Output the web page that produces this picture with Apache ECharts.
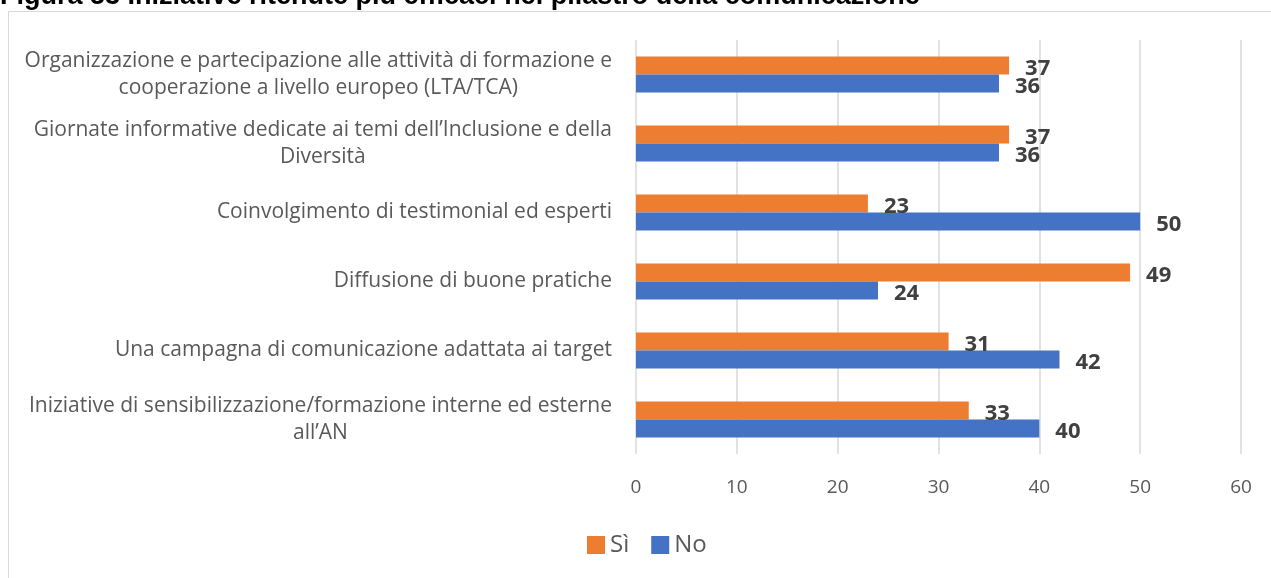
<!DOCTYPE html>
<html>
<head>
<meta charset="utf-8">
<script src="https://cdn.jsdelivr.net/npm/echarts@6/dist/echarts.min.js"></script>
<style>
  html, body { margin: 0; padding: 0; background: #fff; }
  #chart { width: 1271px; height: 578px; }
</style>
</head>
<body>
<div id="chart"></div>
<script>
// Initiatives, listed top to bottom
const categories = [
  "Organizzazione e partecipazione alle attività di formazione e\ncooperazione a livello europeo (LTA/TCA)",
  "Giornate informative dedicate ai temi dell’Inclusione e della\nDiversità",
  "Coinvolgimento di testimonial ed esperti",
  "Diffusione di buone pratiche",
  "Una campagna di comunicazione adattata ai target",
  "Iniziative di sensibilizzazione/formazione interne ed esterne\nall’AN"
];
const seriesNames = ["Sì", "No"];
const valuesSi = [37, 37, 23, 49, 31, 33];
const valuesNo = [36, 36, 50, 24, 42, 40];
const xTicks = { min: 0, max: 60, interval: 10 };

const titleText = "Figura 53 Iniziative ritenute più efficaci nel pilastro della comunicazione";

const FONT = "'Open Sans', 'DejaVu Sans', sans-serif";
const GREY = "#595959";

const chart = echarts.init(document.getElementById('chart'), null, { renderer: 'canvas' });

// Each label line is its own rich token so lines are centred inside a right-aligned block
function labelFormatter(v) {
  return v.split('\n').map(l => '{c|' + l + '}').join('\n');
}

const labelStyle = {
  show: true,
  position: 'right',
  distance: 16,
  offset: [0, 3],
  fontFamily: FONT,
  fontWeight: 'bold',
  fontSize: 22,
  color: '#404040'
};

chart.setOption({
  animation: false,
  title: {
    text: titleText,
    left: 0,
    top: -17,
    padding: 0,
    textStyle: { fontFamily: "'Liberation Sans', Arial, sans-serif", fontWeight: 'bold', fontSize: 27, color: '#000' }
  },
  graphic: [{
    type: 'rect',
    shape: { x: 8.5, y: 11.5, width: 1400, height: 700 },
    style: { fill: 'none', stroke: '#d9d9d9', lineWidth: 1 },
    silent: true,
    z: -1
  }],
  grid: { left: 636, right: 30, top: 40, bottom: 124, containLabel: false },
  legend: {
    data: seriesNames,
    top: 528,
    left: 582,
    itemWidth: 18,
    itemHeight: 18,
    itemGap: 22,
    icon: 'rect',
    textStyle: { fontFamily: FONT, fontSize: 24, color: GREY }
  },
  xAxis: {
    type: 'value',
    min: xTicks.min,
    max: xTicks.max,
    interval: xTicks.interval,
    axisLine: { show: false },
    axisTick: { show: false },
    splitLine: { show: true, lineStyle: { color: '#d9d9d9', width: 1.5 } },
    axisLabel: { fontFamily: FONT, fontSize: 19, color: GREY, margin: 24 }
  },
  yAxis: {
    type: 'category',
    data: categories,
    inverse: true,
    axisLine: { show: false },
    axisTick: { show: false },
    axisLabel: {
      margin: 24,
      fontFamily: FONT,
      fontSize: 21,
      color: GREY,
      align: 'right',
      formatter: labelFormatter,
      rich: { c: { align: 'center', fontFamily: FONT, fontSize: 21, color: GREY, lineHeight: 27 } }
    }
  },
  series: [
    {
      name: seriesNames[0],
      type: 'bar',
      data: valuesSi,
      barWidth: 18,
      barGap: '0%',
      itemStyle: { color: '#ED7D31' },
      label: labelStyle
    },
    {
      name: seriesNames[1],
      type: 'bar',
      data: valuesNo,
      barWidth: 18,
      barGap: '0%',
      itemStyle: { color: '#4472C4' },
      label: labelStyle
    }
  ]
});
</script>
</body>
</html>
